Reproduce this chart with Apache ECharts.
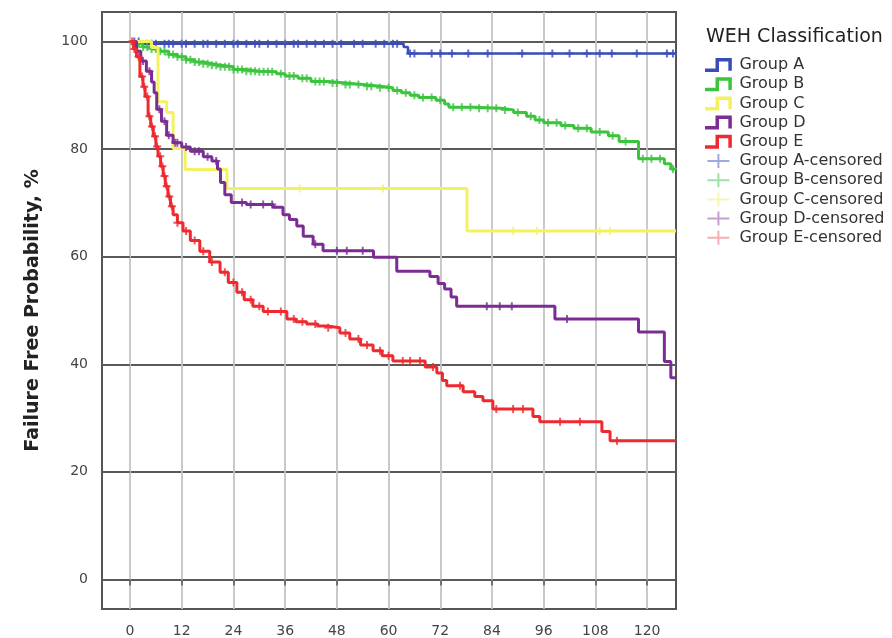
<!DOCTYPE html>
<html>
<head>
<meta charset="utf-8">
<script src="https://cdn.jsdelivr.net/npm/echarts@6/dist/echarts.min.js"></script>
<style>
  html, body { margin: 0; padding: 0; background: #fff; }
  #chart { width: 892px; height: 638px; }
</style>
</head>
<body>
<div id="chart"></div>
<script>
// Kaplan-Meier data (months, % failure free)
const groupNames = ['Group A', 'Group B', 'Group C', 'Group D', 'Group E']
const xTicks = [0, 12, 24, 36, 48, 60, 72, 84, 96, 108, 120]
const yTicks = [0, 20, 40, 60, 80, 100]

const aTimes = [0, 3, 63.5, 64.5, 126.7]
const aSurv = [100, 99.6, 99.0, 97.8, 97.8]
const aCens = [1, 2, 4, 5, 6, 8, 9, 10, 12, 13, 15, 17, 18, 20, 22, 24, 25, 27, 29, 30, 32, 34, 36, 38, 39, 41, 43,
  45, 47, 49, 52, 54, 57, 59, 61, 62, 65, 66, 70, 72, 74.7, 78.5, 83, 91, 98, 102, 106, 109, 111.8, 117.6, 124.6, 126]

const bTimes = [0, 1, 3, 5, 7, 9, 11, 13, 15, 17, 19, 21, 24, 27, 30, 34, 36, 39, 42, 46, 50, 54, 58, 61, 63, 65, 67,
  71, 73, 74, 80, 86, 89, 92, 94, 96, 100, 103, 107, 111, 113.5, 118, 124, 125.5, 126.7]
const bSurv = [100, 99.6, 99.0, 98.6, 98.2, 97.6, 97.2, 96.6, 96.2, 95.9, 95.6, 95.3, 94.8, 94.5, 94.4, 94.0, 93.6,
  93.2, 92.6, 92.3, 92.0, 91.7, 91.4, 90.9, 90.5, 90.0, 89.6, 89.1, 88.4, 87.8, 87.6, 87.3, 86.8, 86.1, 85.4, 84.9,
  84.4, 83.9, 83.2, 82.5, 81.4, 78.2, 77.3, 76.3, 76.3]
const bCens = [1, 2, 3, 4, 5, 6, 7, 8, 9, 10, 11, 12, 13, 14, 15, 16, 17, 18, 19, 20, 21, 22, 23, 24, 25, 26, 27, 28,
  29, 30, 31, 32, 33, 35, 37, 38, 40, 41, 43, 44, 45, 47, 48, 50, 51, 53, 55, 56, 58, 60, 62, 64, 66, 68, 70, 72, 75,
  77, 79, 81, 83, 85, 87, 90, 93, 95, 97, 99, 101, 104, 106, 109, 112, 115, 119, 121, 123, 126]

const cTimes = [0, 5, 6.5, 8.5, 10, 12.8, 22.5, 78.2, 126.7]
const cSurv = [100, 98.9, 88.8, 86.8, 80.1, 76.2, 72.7, 64.8, 64.8]
const cCens = [39.4, 58.7, 88.9, 94.4, 109, 111.4]

const dTimes = [0, 1.5, 2.5, 3.8, 5.0, 5.6, 6.2, 7.3, 8.5, 10, 12, 14, 17, 19, 20.3, 21, 22, 23.5, 27, 33.2, 35.5, 37,
  38.7, 40.2, 42.5, 44.8, 56.5, 61.9, 69.6, 71.5, 73, 74.5, 75.8, 98.6, 118, 124, 125.5, 126.7]
const dSurv = [100, 98.2, 96.4, 94.5, 92.5, 90.5, 87.4, 85.2, 82.6, 81.2, 80.4, 79.6, 78.6, 77.8, 76.3, 73.8, 71.5,
  70.1, 69.7, 69.2, 67.8, 66.9, 65.7, 63.8, 62.3, 61.1, 59.9, 57.3, 56.3, 55.0, 54.0, 52.5, 50.8, 48.4, 46.0, 40.5,
  37.5, 37.5]
const dCens = [3, 4.5, 6.8, 8, 9, 10.5, 11, 13, 15, 16, 18, 20, 26, 28, 30.9, 33, 43, 48, 50.3, 54, 82.8, 85.8, 88.6,
  101.4]

const eTimes = [0, 0.8, 1.5, 2.3, 3.0, 3.5, 4.2, 4.8, 5.4, 6.0, 6.5, 7.1, 7.7, 8.2, 8.8, 9.4, 10, 11, 12.3, 14, 16.2,
  18.5, 20.9, 22.8, 24.8, 26.5, 28.5, 30.9, 36.4, 38.5, 41, 43.5, 45.7, 48.7, 51, 53.5, 56.4, 58.5, 61, 68.5, 71.2,
  72.5, 73.5, 77.3, 80, 81.9, 84.2, 93.5, 95.1, 109.5, 111.4, 126.7]
const eSurv = [100, 98.6, 97.2, 93.5, 91.6, 89.8, 86.1, 84.2, 82.4, 80.5, 78.7, 76.8, 75.0, 73.1, 71.2, 69.4, 67.8,
  66.3, 64.8, 63.0, 61.0, 59.0, 57.1, 55.2, 53.4, 52.0, 50.8, 49.8, 48.4, 47.9, 47.5, 47.1, 46.8, 45.8, 44.7, 43.6,
  42.5, 41.6, 40.6, 39.5, 38.4, 37.0, 36.0, 34.9, 34.0, 33.2, 31.7, 30.3, 29.3, 27.5, 25.8, 25.8]
const eCens = [0.5, 1, 2, 2.8, 3.3, 4, 4.5, 5.1, 5.8, 6.3, 7, 7.5, 8, 8.5, 9.1, 9.7, 11, 13, 15, 17, 19, 22, 24, 26,
  28, 30, 32, 35, 38, 40, 43, 46, 50, 53, 55, 58, 60, 63.3, 65, 67.3, 70.3, 76.6, 85, 88.9, 91.2, 99.8, 104.4, 113]

const lineColors = ['#3a4cb8', '#3cc43f', '#f4f160', '#7b2d94', '#ee2a30']
const censColors = ['#8593d8', '#86d98e', '#f6f3a6', '#b68ac6', '#f49a9c']

const allTimes = [aTimes, bTimes, cTimes, dTimes, eTimes]
const allSurv = [aSurv, bSurv, cSurv, dSurv, eSurv]
const allCens = [aCens, bCens, cCens, dCens, eCens]

const stepIcon = 'path://M0,10H9V1H23V12H20V4H12V13H0Z'
const censIcon = 'path://M0,6H10V0H12V6H22V8H12V14H10V8H0Z'
const plusMark = 'path://M3,0H5V3H8V5H5V8H3V5H0V3H3Z'

function survAt(times, surv, t) {
  let v = surv[0]
  for (let i = 0; i < times.length; i++) {
    if (times[i] <= t) v = surv[i]
  }
  return v
}

const chart = echarts.init(document.getElementById('chart'))

const series = []
groupNames.forEach((name, i) => {
  series.push({
    name: name,
    type: 'line',
    step: 'end',
    showSymbol: false,
    data: allTimes[i].map((t, k) => [t, allSurv[i][k]]),
    lineStyle: { color: lineColors[i], width: i === 0 ? 2.5 : 3 },
    itemStyle: { color: lineColors[i] },
    z: 3 + i,
  })
})
groupNames.forEach((name, i) => {
  series.push({
    name: name + '-censored',
    type: 'scatter',
    symbol: plusMark,
    symbolSize: 8,
    data: allCens[i].map(t => [t, survAt(allTimes[i], allSurv[i], t)]),
    itemStyle: { color: lineColors[i] },
    z: 3 + i,
  })
})

const legendData = groupNames.map((g, i) => ({ name: g, icon: stepIcon, itemStyle: { color: lineColors[i] } }))
  .concat(groupNames.map((g, i) => ({ name: g + '-censored', icon: censIcon, itemStyle: { color: censColors[i] } })))

chart.setOption({
  animation: false,
  textStyle: { fontFamily: 'DejaVu Sans' },
  title: {
    text: 'WEH Classification',
    left: 701,
    top: 23,
    textStyle: { fontSize: 19, fontWeight: 'normal', color: '#222', fontFamily: 'DejaVu Sans' },
  },
  legend: {
    orient: 'vertical',
    left: 700,
    top: 52,
    itemWidth: 32,
    itemHeight: 14,
    itemGap: 3.2,
    data: legendData,
    textStyle: { fontSize: 16, color: '#333', fontFamily: 'DejaVu Sans' },
  },
  grid: {
    left: 102, top: 12, width: 574, height: 598,
    show: true, borderColor: '#555', borderWidth: 2, backgroundColor: '#fff',
  },
  xAxis: {
    type: 'value',
    min: -6.5,
    max: 126.7,
    axisLine: { show: false },
    axisTick: { show: true, customValues: xTicks, length: 6, lineStyle: { color: '#555', width: 1.5 } },
    axisLabel: { customValues: xTicks, margin: 15, color: '#444', fontSize: 14 },
    splitLine: { show: true, lineStyle: { color: '#c4c4c4', width: 1.8 } },
  },
  yAxis: {
    type: 'value',
    min: -5.5,
    max: 105.5,
    name: 'Failure Free Probability, %',
    nameLocation: 'middle',
    nameGap: 59,
    nameTextStyle: { fontSize: 19, fontWeight: 'bold', color: '#222' },
    axisLine: { show: false },
    axisTick: { show: true, customValues: yTicks, length: 8, lineStyle: { color: '#555', width: 1.5 } },
    axisLabel: { customValues: yTicks, margin: 14, color: '#444', fontSize: 14 },
    splitLine: { show: true, lineStyle: { color: '#5a5a5a', width: 2.2 } },
  },
  series: series,
})
</script>
</body>
</html>
